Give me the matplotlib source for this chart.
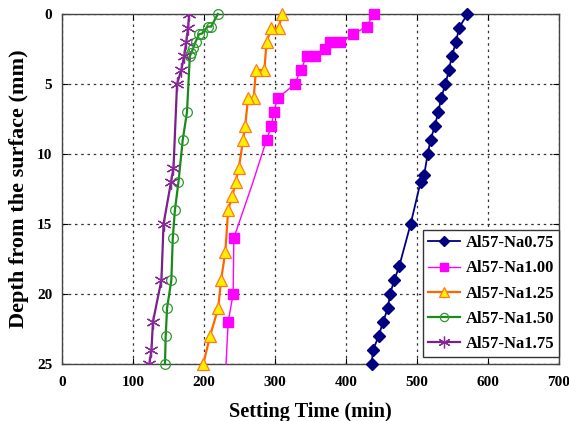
import matplotlib
matplotlib.use("Agg")
import matplotlib.pyplot as plt

# Setting time (min) versus depth from the surface (mm) for each mix
na075_time = [571, 559, 555, 549, 545, 540, 534, 530, 525, 519, 515, 510, 505, 491, 475, 468, 462, 459, 452, 446, 438, 436]
na075_depth = [0, 1, 2, 3, 4, 5, 6, 7, 8, 9, 10, 11.5, 12, 15, 18, 19, 20, 21, 22, 23, 24, 25]

na100_time = [439, 429, 410, 392, 377, 370, 356, 345, 336, 328, 304, 298, 295, 288, 269, 242, 241, 234, 231]
na100_depth = [0, 0.9, 1.45, 2, 2, 2.5, 3, 3, 4, 5, 6, 7, 8, 9, 12, 16, 20, 22, 25]
na100_marked = [True] * 14 + [False, True, True, True, False]

na125_time = [310, 305, 295, 288, 285, 273, 270, 262, 258, 255, 249, 244.6, 240, 234, 230, 224, 220, 208.5, 199]
na125_depth = [0, 1, 1, 2, 4, 4, 6, 6, 8, 9, 11, 12, 13, 14, 17, 19, 21, 23, 25]

na150_time = [219.5, 210, 205, 197, 193, 188, 185, 182, 180, 176, 170, 164, 159, 156, 154, 148, 146, 145]
na150_depth = [0, 0.9, 0.9, 1.4, 1.45, 2, 2.4, 2.8, 3, 7, 9, 12, 14, 16, 19, 21, 23, 25]

na175_time = [179, 177.5, 175, 172, 168, 162, 157, 153.5, 143, 140, 128, 126, 123]
na175_depth = [0, 1, 2, 3, 4, 5, 11, 12, 15, 19, 22, 24, 25]

labels = ["Al57-Na0.75", "Al57-Na1.00", "Al57-Na1.25", "Al57-Na1.50", "Al57-Na1.75"]
x_ticks = [0, 100, 200, 300, 400, 500, 600, 700]
y_ticks = [0, 5, 10, 15, 20, 25]

serif = ["Liberation Serif", "DejaVu Serif"]
plt.rcParams["font.family"] = serif
plt.rcParams["font.weight"] = "bold"

fig = plt.figure(figsize=(5.69, 4.21), dpi=100)
ax = fig.add_axes([0.109, 0.1354, 0.8735, 0.8314])

ax.plot(na075_time, na075_depth, color="#000080", lw=1.3, marker="D",
        ms=6, mfc="#000080", mec="#000080", label=labels[0], clip_on=False, zorder=3)
ax.plot(na100_time, na100_depth, color="#ff00ff", lw=1.0, marker="s",
        ms=7.5, mfc="#ff00ff", mec="#ff00ff", markevery=na100_marked,
        label=labels[1], clip_on=False, zorder=3)
ax.plot(na125_time, na125_depth, color="#ff6600", lw=1.6, marker="^",
        ms=9, mfc="#ffee00", mec="#ff7a1a", mew=0.9, label=labels[2], clip_on=False, zorder=3)
ax.plot(na150_time, na150_depth, color="#1a8a1a", lw=1.6, marker="o",
        ms=7, mfc="none", mec="#2a9a2a", mew=0.9, label=labels[3], clip_on=False, zorder=3)
ax.plot(na175_time, na175_depth, color="#7b1f8a", lw=1.6, marker=(6, 2, 0),
        ms=10, mfc="none", mec="#8a2a9a", mew=0.9, label=labels[4], clip_on=True, zorder=3)

ax.set_xlim(0, 700)
ax.set_ylim(25, 0)
ax.set_xticks(x_ticks)
ax.set_yticks(y_ticks)
ax.tick_params(direction="in", length=4, top=True, right=True, labelsize=11)
ax.tick_params(axis="x", pad=9)
ax.tick_params(axis="y", pad=7)
for lab in ax.get_xticklabels() + ax.get_yticklabels():
    lab.set_fontweight("bold")

ax.grid(True, color="#333333", linestyle=(0, (2, 3)), linewidth=0.9)
ax.set_axisbelow(True)
for sp in ax.spines.values():
    sp.set_color("#444444")
    sp.set_linewidth(1.0)

ax.set_xlabel("Setting Time (min)", fontsize=14.6, fontweight="bold", labelpad=9)
ax.set_ylabel("Depth from the surface (mm)", fontsize=16, fontweight="bold", labelpad=6)

leg = ax.legend(loc="lower right", bbox_to_anchor=(1.0, 0.02), borderaxespad=0,
                fancybox=False, edgecolor="#333333", framealpha=1,
                prop={"family": serif, "weight": "bold", "size": 12},
                handlelength=1.9, handletextpad=0.35, labelspacing=0.55,
                borderpad=0.3, markerscale=0.85)
leg.get_frame().set_linewidth(1.0)

fig.savefig("out.png", dpi=100)
